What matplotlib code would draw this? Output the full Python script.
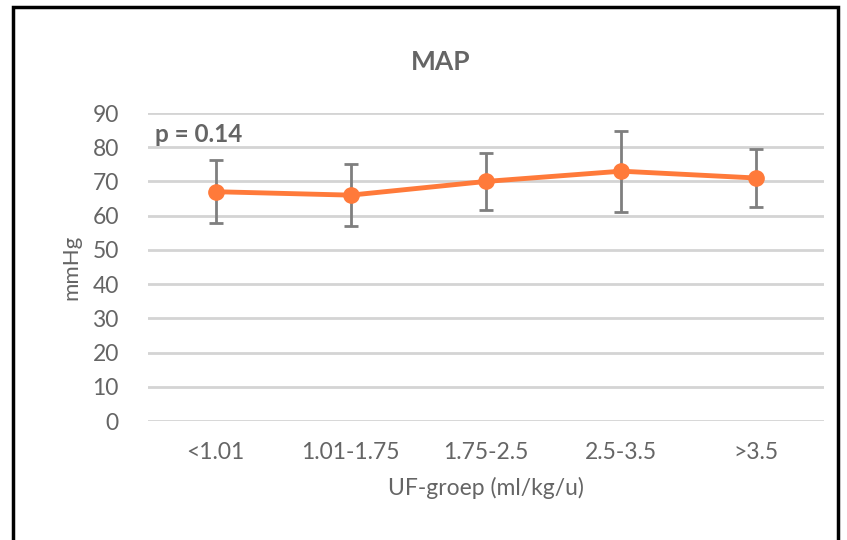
import matplotlib
matplotlib.use('Agg')
import matplotlib.pyplot as plt
from matplotlib.patches import Rectangle

# data
groups = ['<1.01', '1.01-1.75', '1.75-2.5', '2.5-3.5', '>3.5']
map_mean = [67.0, 66.0, 70.0, 73.0, 71.0]
map_sd = [9.2, 9.0, 8.4, 11.8, 8.4]
yticks = [0, 10, 20, 30, 40, 50, 60, 70, 80, 90]

plt.rcParams['font.family'] = ['Lato', 'DejaVu Sans']
txt = '#656565'
orange = '#FF7A3A'

fig = plt.figure(figsize=(8.47, 5.40), dpi=100)
ax = fig.add_axes([148/847, 1 - 421/540, 676/847, 308/540])

x = list(range(len(groups)))
ax.errorbar(x, map_mean, yerr=map_sd, fmt='none', ecolor='#7f7f7f',
            elinewidth=2, capsize=5, capthick=2, zorder=2)
ax.plot(x, map_mean, color=orange, lw=3.5, marker='o', ms=11, zorder=3)

ax.set_xlim(-0.5, len(groups) - 0.5)
ax.set_ylim(0, 90)
ax.set_yticks(yticks)
ax.set_xticks(x)
ax.set_xticklabels(groups)
ax.grid(axis='y', color='#d4d4d4', lw=2)
ax.set_axisbelow(True)
for s in ax.spines.values():
    s.set_visible(False)
ax.tick_params(length=0, labelsize=16.5, colors=txt)
ax.tick_params(axis='y', pad=21)
ax.tick_params(axis='x', pad=15)

ax.set_ylabel('mmHg', fontsize=16, color=txt, labelpad=8)
ax.set_xlabel('UF-groep (ml/kg/u)', fontsize=16.5, color=txt, labelpad=10)

fig.text(441/847, 1 - 62/540, 'MAP', fontsize=19, fontweight='bold',
         color=txt, ha='center', va='center')
fig.text(155/847, 1 - 134/540, 'p = 0.14', fontsize=17.5, fontweight='bold',
         color=txt, va='center', ha='left')

# black frame around the chart
fig.patches.append(Rectangle((13/847, -0.1), (838 - 13)/847, 1.1 - 7/540,
                             transform=fig.transFigure, fill=False,
                             edgecolor='black', lw=2.5, zorder=10))

fig.savefig('out.png', dpi=100)
